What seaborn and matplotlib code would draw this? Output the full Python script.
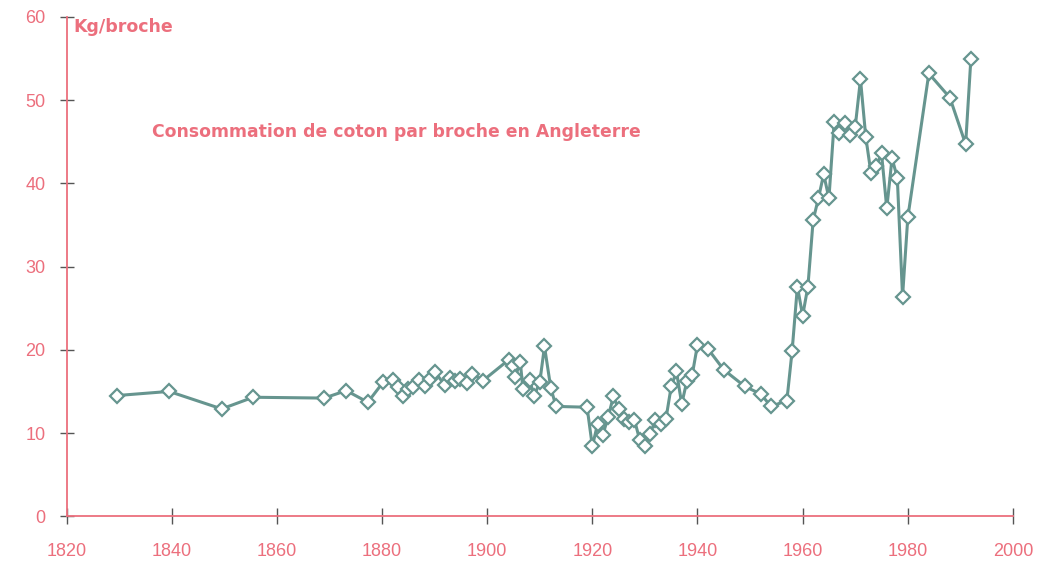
import numpy as np
import pandas as pd
import seaborn as sns
import matplotlib.pyplot as plt

# valeurs (kg par broche)
annees = [1829.5, 1839.5, 1849.5, 1855.5, 1869.0, 1873.2, 1877.3, 1880.2, 1882.1, 1883.0,
          1883.9, 1884.9, 1885.9, 1887.0, 1888.1, 1889.1, 1890.1, 1891.9, 1892.9, 1893.8,
          1894.9, 1896.1, 1897.2, 1899.2, 1904.1, 1905.0, 1905.3, 1906.3, 1906.8, 1908.1,
          1908.9, 1910.0, 1910.9, 1912.1, 1913.1,
          1919, 1920, 1921, 1922, 1923, 1924, 1925, 1926, 1927, 1928, 1929, 1930,
          1931, 1932, 1933, 1934, 1935, 1936, 1937, 1938, 1939, 1940,
          1942, 1945, 1949, 1952, 1954, 1957, 1958, 1959, 1960, 1961, 1962, 1963,
          1964, 1965, 1966, 1967, 1968, 1969, 1970, 1971, 1972, 1973, 1974, 1975,
          1976, 1977, 1978, 1979, 1980, 1984, 1988, 1991, 1992]
kg_broche = [14.5, 15.0, 12.9, 14.3, 14.2, 15.1, 13.7, 16.1, 16.4, 15.5,
             14.4, 15.3, 15.5, 16.4, 15.6, 16.5, 17.3, 15.8, 16.6, 16.2,
             16.5, 16.0, 17.1, 16.3, 18.8, 18.0, 16.7, 18.5, 15.3, 16.4,
             14.4, 16.1, 20.4, 15.4, 13.2,
             13.1, 8.4, 11.1, 9.8, 11.9, 14.4, 12.9, 11.7, 11.3, 11.6, 9.2, 8.5,
             9.9, 11.6, 11.1, 11.7, 15.6, 17.4, 13.5, 16.3, 17.0, 20.6,
             20.1, 17.6, 15.6, 14.7, 13.2, 13.9, 19.9, 27.6, 24.1, 27.6, 35.6, 38.2,
             41.1, 38.2, 47.4, 46.1, 47.3, 45.8, 46.8, 52.5, 45.6, 41.2, 42.1, 43.6,
             37.0, 43.0, 40.7, 26.4, 35.9, 53.2, 50.3, 44.7, 55.0]

x_ticks = [1820, 1840, 1860, 1880, 1900, 1920, 1940, 1960, 1980, 2000]
y_ticks = [0, 10, 20, 30, 40, 50, 60]

rouge = '#ec6f7d'
vert = '#66958f'

df = pd.DataFrame({'annee': annees, 'kg': kg_broche})

sns.set_style('white')
plt.rcParams['font.family'] = ['Liberation Sans', 'DejaVu Sans']

fig = plt.figure(figsize=(10.4, 5.63), dpi=100)
ax = fig.add_axes([0.064, 0.083, 0.910, 0.887])

sns.lineplot(data=df, x='annee', y='kg', ax=ax, color=vert, linewidth=2.2,
             marker='D', markersize=7.5, markerfacecolor='white',
             markeredgecolor=vert, markeredgewidth=1.6, sort=False)

ax.set_xlim(1820, 2000)
ax.set_ylim(0, 60)
ax.set_xticks(x_ticks)
ax.set_yticks(y_ticks)
ax.set_xlabel('')
ax.set_ylabel('')

for s in ['top', 'right']:
    ax.spines[s].set_visible(False)
for s in ['left', 'bottom']:
    ax.spines[s].set_color(rouge)
    ax.spines[s].set_linewidth(1.3)

ax.tick_params(axis='x', direction='inout', length=12, width=1, color='#555555',
               labelcolor=rouge, labelsize=13, pad=13)
ax.tick_params(axis='y', direction='inout', length=10, width=1, color='#555555',
               labelcolor=rouge, labelsize=13, pad=10)
ax.tick_params(bottom=True, left=True)

ax.text(1821.3, 58.8, 'Kg/broche', color=rouge, fontsize=12.5, fontweight='bold',
        family=['DejaVu Sans'], va='center')
ax.text(1836.3, 46.2, 'Consommation de coton par broche en Angleterre', color=rouge,
        fontsize=12.4, fontweight='bold', family=['DejaVu Sans'], va='center')

fig.savefig('out.png', dpi=100)
